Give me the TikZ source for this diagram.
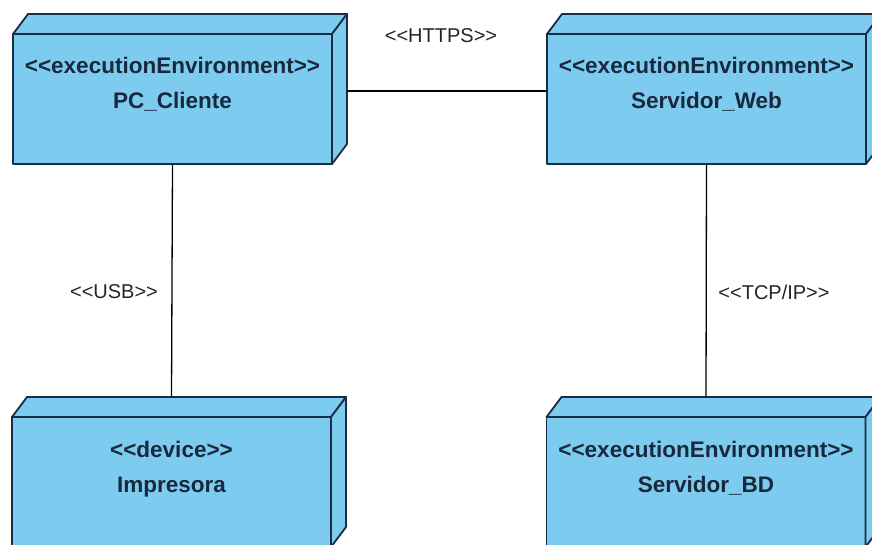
\documentclass[tikz,border=0pt]{standalone}
\usepackage{fontspec}
\setmainfont{Liberation Sans}[Ligatures=TeXOff]
\usetikzlibrary{calc}
\definecolor{nodefill}{RGB}{125,204,240}
\definecolor{nodeline}{RGB}{25,45,70}
\definecolor{nodetext}{RGB}{25,40,60}
\newcommand\boxdepth[1]{%
  \draw[face] (#1.north west) -- ++(15,-20) -- ([shift={(15,-20)}]#1.north east) -- (#1.north east) -- cycle;
  \draw[face] (#1.north east) -- ([shift={(15,-20)}]#1.north east) -- ([shift={(15,-20)}]#1.south east) -- (#1.south east) -- cycle;
}
\begin{document}
\begin{tikzpicture}[x=1pt,y=-1pt,
  box/.style={draw=nodeline, fill=nodefill, line width=1.8pt, line join=round,
    minimum width=319pt, minimum height=130pt, inner sep=0pt, outer sep=0pt},
  face/.style={draw=nodeline, fill=nodefill, line width=1.8pt, line join=round},
  txt/.style={anchor=base, text=nodetext, font=\bfseries\fontsize{22.5}{26}\selectfont, inner sep=0pt},
  lbl/.style={text=black!85, font=\fontsize{20}{23}\selectfont, inner sep=0pt},
  conn/.style={draw=black, line width=1.3pt}]
\useasboundingbox (0,0) rectangle (872,544);
\clip (0,0) rectangle (872,544);
\fill[white] (0,0) rectangle (872,544);

% boxes (front faces)
\node[box] (pc)  at (172.5,99) {};
\node[box] (web) at (706.5,99) {};
\node[box] (imp) at (171.5,482) {};
\node[box] (bd)  at (706,482) {};
\boxdepth{pc}
\boxdepth{web}
\boxdepth{imp}
\boxdepth{bd}

% texts
\node[txt] (pcs) at ($(pc.north)+(0,39)$) {<<executionEnvironment>>};
\node[txt] (pcn) at ($(pc.north)+(0,74)$) {PC\_Cliente};
\node[txt] (webs) at ($(web.north)+(0,39)$) {<<executionEnvironment>>};
\node[txt] (webn) at ($(web.north)+(0,74)$) {Servidor\_Web};
\node[txt] (imps) at ($(imp.north)+(0,40)$) {<<device>>};
\node[txt] (impn) at ($(imp.north)+(0,75)$) {Impresora};
\node[txt] (bds) at ($(bd.north)+(0,40)$) {<<executionEnvironment>>};
\node[txt] (bdn) at ($(bd.north)+(0,75)$) {Servidor\_BD};

% connectors
\draw[conn] ($(pc.east)+(15,-8)$) -- ($(web.west)+(0,-8)$);
\draw[conn] (pc.south) -- ($(imp.north)+(0,-20)$);
\draw[conn] (web.south) -- ($(bd.north)+(0,-20)$);

% labels
\node[lbl] (l1) at (441,36) {<<HTTPS>>};
\node[lbl] (l2) at (114,292) {<<USB>>};
\node[lbl] (l3) at (774,292) {<<TCP/IP>>};
\end{tikzpicture}
\end{document}
